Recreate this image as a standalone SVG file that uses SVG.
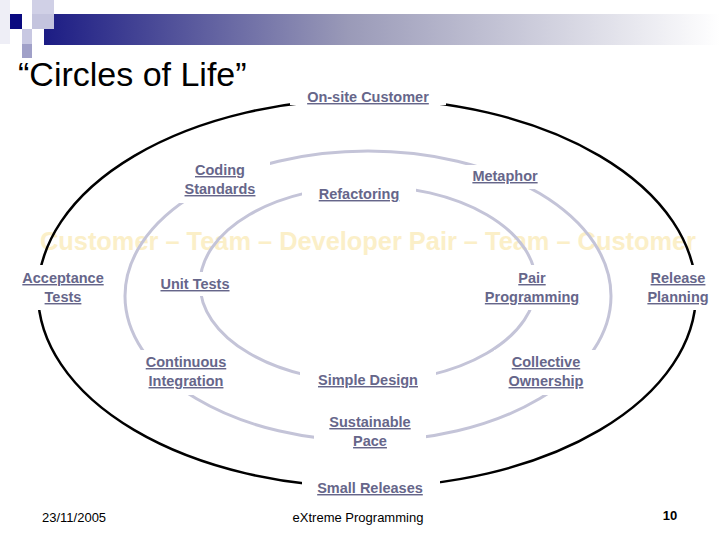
<svg xmlns="http://www.w3.org/2000/svg" width="720" height="540" viewBox="0 0 720 540">
<defs>
<linearGradient id="bar" x1="0" x2="1" y1="0" y2="0">
<stop offset="0" stop-color="#1c1c84"/>
<stop offset="0.45" stop-color="#9a9ab8"/>
<stop offset="1" stop-color="#ffffff"/>
</linearGradient>
<style>
.lbl{font-family:"Liberation Sans",Arial,sans-serif;font-size:14.5px;font-weight:bold;fill:#66668a;text-decoration:underline;text-anchor:middle}
.gr{fill:none;stroke:#c4c4d8;stroke-width:3}
.bk{fill:none;stroke:#000;stroke-width:2.5}
.ft{font-family:"Liberation Sans",Arial,sans-serif;font-size:13px;fill:#000}
</style>
</defs>
<rect width="720" height="540" fill="#fff"/>
<g id="header">
<rect x="44" y="14" width="676" height="31" fill="url(#bar)"/>
<rect x="10" y="14" width="12" height="15" fill="#0a0a80"/>
<rect x="32" y="0" width="22" height="14" fill="#d0d0e6"/>
<rect x="32" y="14" width="22" height="15" fill="#c4c4de"/>
<rect x="22" y="29" width="10" height="15" fill="#c8c8e2"/>
<rect x="22" y="44" width="10" height="14" fill="#a0a0c8"/>
<rect x="0" y="0" width="10" height="44" fill="#eeeef6"/>
</g>
<text x="18" y="86" font-family="Liberation Sans,Arial,sans-serif" font-size="34" fill="#000">“Circles of Life”</text>
<text x="368" y="250" text-anchor="middle" font-family="Liberation Sans,Arial,sans-serif" font-size="26" font-weight="bold" fill="#fbefc8" textLength="656" lengthAdjust="spacingAndGlyphs">Customer – Team – Developer Pair – Team – Customer</text>
<g id="connectors">
<ellipse class="bk" cx="367" cy="293" rx="329" ry="194"/>
<ellipse class="gr" cx="368" cy="296" rx="243" ry="145"/>
<ellipse class="gr" cx="368" cy="284" rx="168" ry="98"/>
</g>
<g fill="#fff">
<rect x="290" y="85" width="156" height="20"/>
<rect x="170" y="158" width="100" height="45"/>
<rect x="302" y="180" width="114" height="26"/>
<rect x="458" y="165" width="96" height="24"/>
<rect x="6" y="265" width="114" height="45"/>
<rect x="146" y="272" width="98" height="24"/>
<rect x="470" y="265" width="126" height="45"/>
<rect x="634" y="265" width="86" height="45"/>
<rect x="132" y="350" width="108" height="45"/>
<rect x="300" y="366" width="136" height="26"/>
<rect x="494" y="350" width="104" height="45"/>
<rect x="314" y="408" width="112" height="45"/>
<rect x="302" y="476" width="138" height="22"/>
</g>
<g id="n-onsite"><text class="lbl" x="368" y="102">On-site Customer</text></g>
<g id="n-coding"><text class="lbl" x="220" y="175">Coding</text><text class="lbl" x="220" y="194">Standards</text></g>
<g id="n-refactoring"><text class="lbl" x="359" y="199">Refactoring</text></g>
<g id="n-metaphor"><text class="lbl" x="505" y="181">Metaphor</text></g>
<g id="n-acceptance"><text class="lbl" x="63" y="283">Acceptance</text><text class="lbl" x="63" y="302">Tests</text></g>
<g id="n-unittests"><text class="lbl" x="195" y="289">Unit Tests</text></g>
<g id="n-pair"><text class="lbl" x="532" y="283">Pair</text><text class="lbl" x="532" y="302">Programming</text></g>
<g id="n-release"><text class="lbl" x="678" y="283">Release</text><text class="lbl" x="678" y="302">Planning</text></g>
<g id="n-ci"><text class="lbl" x="186" y="367">Continuous</text><text class="lbl" x="186" y="386">Integration</text></g>
<g id="n-simple"><text class="lbl" x="368" y="385">Simple Design</text></g>
<g id="n-collective"><text class="lbl" x="546" y="367">Collective</text><text class="lbl" x="546" y="386">Ownership</text></g>
<g id="n-sustainable"><text class="lbl" x="370" y="427">Sustainable</text><text class="lbl" x="370" y="446">Pace</text></g>
<g id="n-small"><text class="lbl" x="370" y="493">Small Releases</text></g>
<text class="ft" x="42" y="522">23/11/2005</text>
<text class="ft" x="358" y="522" text-anchor="middle">eXtreme Programming</text>
<text class="ft" x="670" y="520" text-anchor="middle" font-weight="bold">10</text>
</svg>
